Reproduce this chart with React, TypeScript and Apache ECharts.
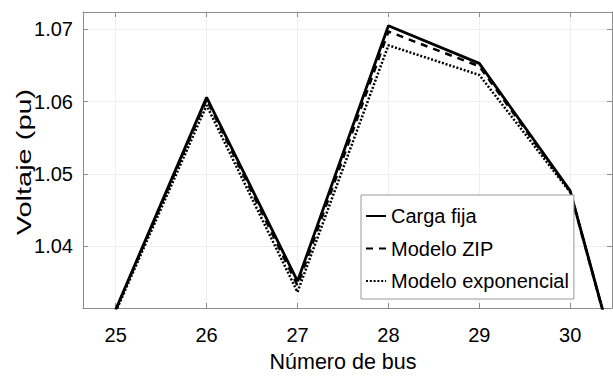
import React, { useEffect, useRef } from "react";
import * as echarts from "echarts";

const buses = [25, 26, 27, 28, 29, 30, 31];
const cargaFija = [1.0313, 1.0606, 1.0352, 1.0705, 1.0653, 1.0477, 1.0016];
const modeloZIP = [1.0312, 1.0603, 1.0346, 1.0697, 1.0649, 1.0476, 1.0016];
const modeloExp = [1.031, 1.0595, 1.0337, 1.0678, 1.0637, 1.0475, 1.0016];
const xTicks = [25, 26, 27, 28, 29, 30];
const yTicks = [1.04, 1.05, 1.06, 1.07];
const seriesNames = ["Carga fija", "Modelo ZIP", "Modelo exponencial"];

const FONT = "'Liberation Sans', Arial, sans-serif";

export default function App() {
  const ref = useRef<HTMLDivElement>(null);
  useEffect(() => {
    if (!ref.current) return;
    const chart = echarts.init(ref.current, undefined, { renderer: "svg" });
    const pair = (vals: number[]) => buses.map((b, i) => [b, vals[i]]);
    const frameColor = "#8c8c8c";
    const xBase = {
      type: "value",
      min: 24.64,
      max: 30.46,
      axisLine: { show: true, lineStyle: { color: frameColor, width: 1 } },
      axisTick: { show: true, inside: true, length: 5, customValues: xTicks, lineStyle: { color: frameColor } },
    };
    const yBase = {
      type: "value",
      min: 1.0315,
      max: 1.0724,
      axisLine: { show: true, lineStyle: { color: frameColor, width: 1 } },
      axisTick: { show: true, inside: true, length: 5, customValues: yTicks, lineStyle: { color: frameColor } },
    };
    chart.setOption({
      animation: false,
      backgroundColor: "#fff",
      grid: { left: 83, right: 1, top: 12, bottom: 75, containLabel: false },
      xAxis: [
        {
          ...xBase,
          position: "bottom",
          axisLabel: {
            show: true,
            customValues: xTicks,
            margin: 17,
            fontSize: 20,
            color: "#000",
            fontFamily: FONT,
            formatter: (v: number) => String(v),
          },
          splitLine: { show: true, lineStyle: { color: "#efefef", width: 1 } },
        },
        {
          ...xBase,
          position: "top",
          axisLabel: { show: false },
          splitLine: { show: false },
        },
      ],
      yAxis: [
        {
          ...yBase,
          position: "left",
          axisLabel: {
            show: true,
            customValues: yTicks,
            margin: 10,
            fontSize: 20,
            color: "#000",
            fontFamily: FONT,
            formatter: (v: number) => v.toFixed(2),
          },
          splitLine: { show: true, lineStyle: { color: "#efefef", width: 1 } },
        },
        {
          ...yBase,
          position: "right",
          axisLabel: { show: false },
          splitLine: { show: false },
        },
      ],
      legend: {
        orient: "vertical",
        left: 361,
        top: 195,
        backgroundColor: "#fff",
        borderColor: "#9a9a9a",
        borderWidth: 1,
        borderRadius: 0,
        padding: [11, 5, 8, 4],
        itemWidth: 20,
        itemHeight: 14,
        itemGap: 12.5,
        itemStyle: { opacity: 0 },
        textStyle: { fontSize: 20, color: "#000", fontFamily: FONT },
        data: seriesNames,
      },
      graphic: [
        {
          type: "text",
          x: 343,
          y: 362,
          style: {
            text: "Número de bus",
            fontSize: 21.5,
            fontFamily: FONT,
            fill: "#000",
            textAlign: "center",
            textVerticalAlign: "middle",
          },
        },
        {
          type: "text",
          x: 24,
          y: 162,
          rotation: Math.PI / 2,
          scaleX: 1.38,
          style: {
            text: "Voltaje (pu)",
            fontSize: 21,
            fontFamily: FONT,
            fill: "#000",
            textAlign: "center",
            textVerticalAlign: "middle",
          },
        },
      ],
      series: [
        {
          name: seriesNames[0],
          type: "line",
          data: pair(cargaFija),
          symbol: "none",
          showSymbol: false,
          clip: true,
          lineStyle: { color: "#000", width: 2.8, type: "solid" },
          itemStyle: { color: "#000" },
        },
        {
          name: seriesNames[1],
          type: "line",
          data: pair(modeloZIP),
          symbol: "none",
          showSymbol: false,
          clip: true,
          lineStyle: { color: "#000", width: 2.5, type: [7, 6] },
          itemStyle: { color: "#000" },
        },
        {
          name: seriesNames[2],
          type: "line",
          data: pair(modeloExp),
          symbol: "none",
          showSymbol: false,
          clip: true,
          lineStyle: { color: "#000", width: 2.5, type: [2, 1.8] },
          itemStyle: { color: "#000" },
        },
      ],
    });
    return () => chart.dispose();
  }, []);
  return <div ref={ref} style={{ width: 613, height: 383, position: "absolute", left: 0, top: 0 }} />;
}
